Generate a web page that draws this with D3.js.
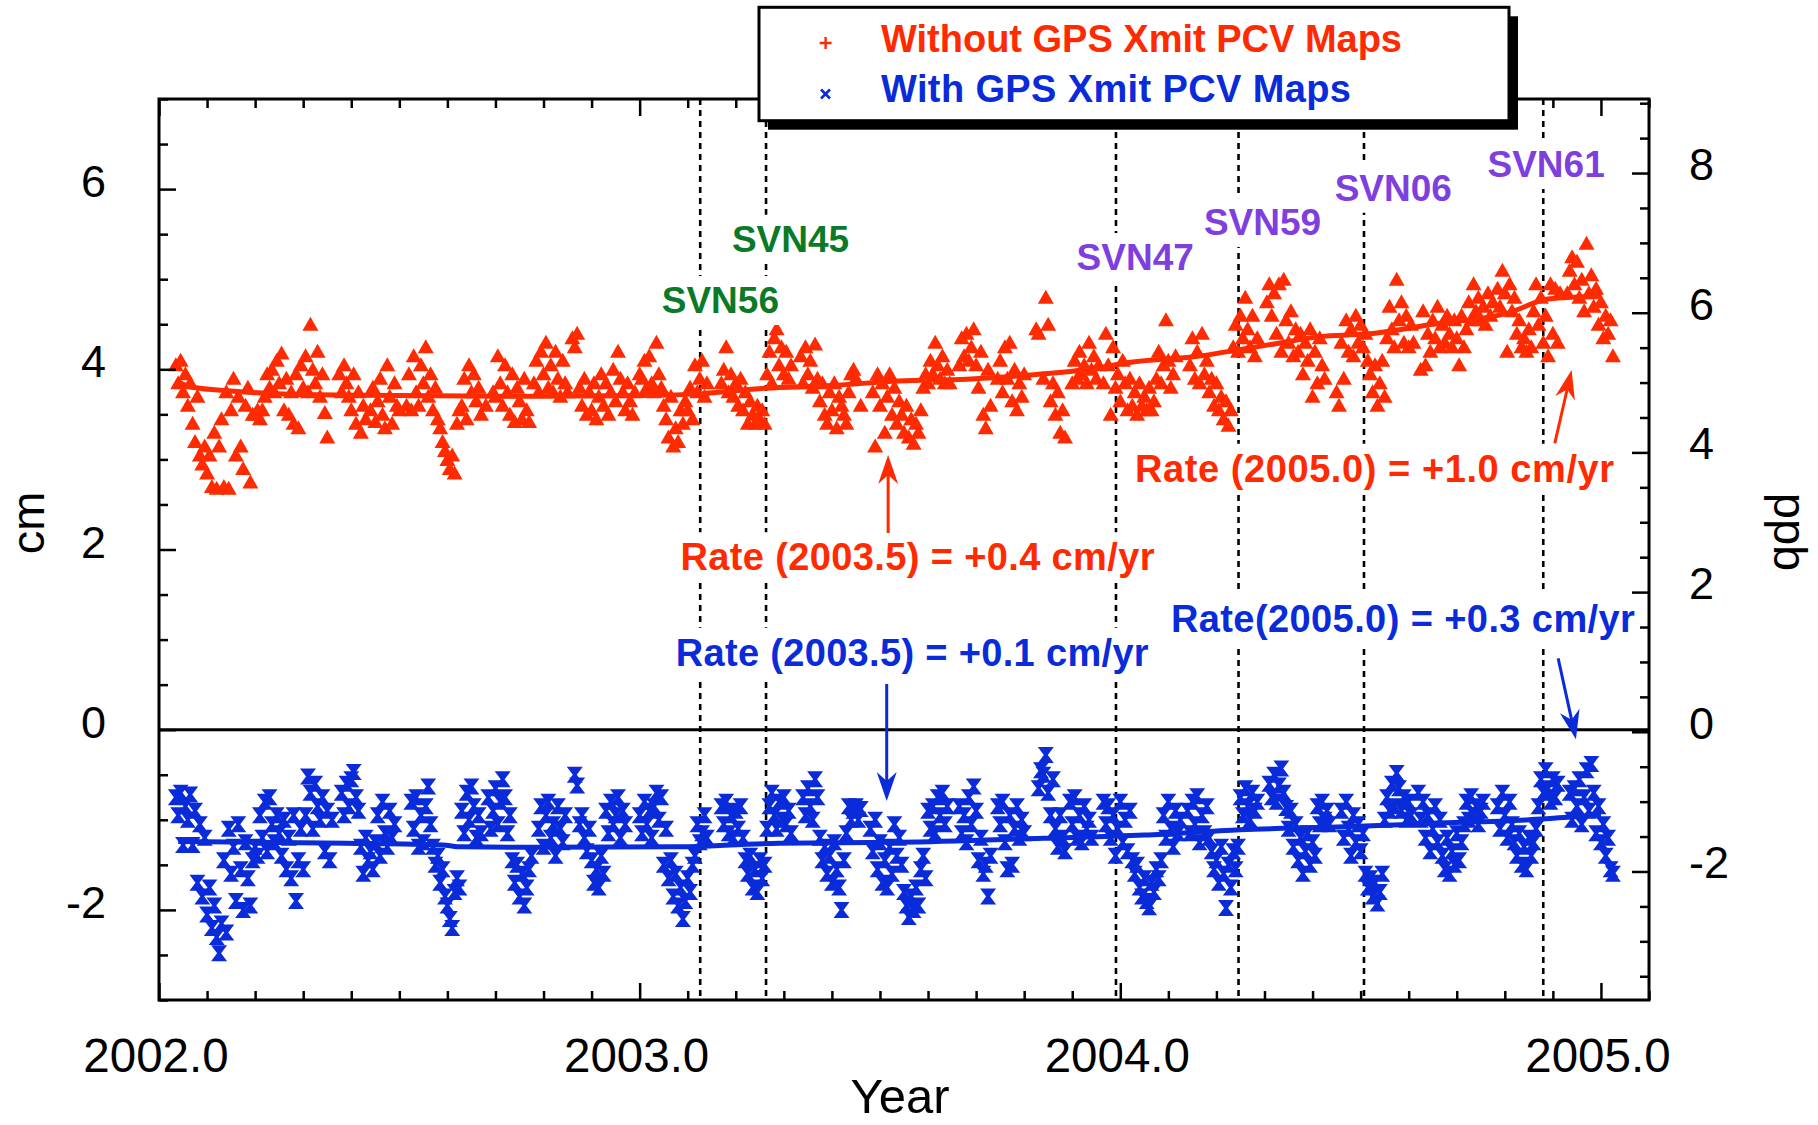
<!DOCTYPE html>
<html><head><meta charset="utf-8">
<script src="https://cdn.jsdelivr.net/npm/d3@7"></script>
<style>
html,body{margin:0;padding:0;background:#fff;}
svg{display:block;}
</style></head>
<body><svg id="chart" width="1818" height="1125"></svg>
<script>
// ---------------- DATA ----------------
// sampling grid: year = startYear + i * sampleStep
const startYear = 2002.0;
const sampleStep = 0.005;

// Without GPS Xmit PCV Maps (cm), one row per 0.1 yr
const redValues = [
null,null,null,null,null,null,null,4.05,3.85,4.10,3.75,3.95,3.60,3.85,3.40,3.20,3.70,3.05,2.95,3.15,
2.85,3.05,2.70,3.30,2.68,3.15,3.45,2.70,3.75,2.68,3.55,3.90,3.05,3.70,3.15,2.90,3.60,3.80,2.75,3.50,
3.50,3.55,3.45,3.55,3.70,3.95,3.80,4.00,3.75,4.10,3.85,4.18,3.55,3.90,3.50,3.75,3.40,3.95,3.35,4.05,
3.80,4.15,3.75,4.50,4.00,3.85,4.20,3.70,3.95,3.52,3.25,null,null,null,null,3.95,3.75,4.05,3.85,3.70,
3.55,3.95,3.40,3.75,3.30,3.60,3.45,null,3.55,3.80,3.42,3.65,3.90,3.50,3.35,4.05,3.70,3.40,3.85,3.60,
3.55,null,null,3.60,3.95,3.55,4.15,3.75,3.60,4.05,3.85,4.25,3.70,3.95,3.55,3.80,3.45,3.35,3.20,3.10,
3.00,2.90,3.05,2.85,3.40,3.55,3.60,3.90,3.45,4.05,3.75,3.95,3.65,3.80,3.50,null,3.60,null,null,3.75,
3.70,4.15,3.85,3.60,4.05,3.75,3.50,3.95,3.42,3.80,3.65,3.45,3.90,3.55,3.42,null,3.85,4.10,3.75,4.20,
3.95,4.30,3.80,4.05,3.75,4.20,3.90,3.70,4.10,3.85,3.75,null,4.35,4.25,4.40,3.80,3.60,3.90,3.50,3.75,
3.55,3.85,3.45,3.70,3.95,3.60,3.85,3.50,3.75,4.00,3.65,4.20,3.90,3.75,3.55,3.85,3.65,3.50,3.75,null,
3.95,3.90,4.10,3.80,4.15,3.85,3.75,4.30,3.95,3.80,3.60,3.45,3.25,3.70,3.15,3.35,3.20,3.55,3.40,3.65,
3.55,3.80,3.45,4.05,3.75,3.90,4.10,3.70,3.85,null,null,null,null,null,3.85,4.00,4.25,3.75,3.95,3.70,
3.85,3.60,3.90,3.55,3.75,3.40,3.65,3.50,3.40,3.60,3.45,3.55,3.40,3.95,4.20,3.85,4.35,4.45,4.05,4.25,
3.95,4.20,3.90,4.05,null,null,null,4.15,3.85,4.25,3.95,4.10,3.80,4.28,3.90,3.65,3.85,3.50,3.40,3.75,
3.55,3.85,3.35,3.70,3.60,3.50,3.40,3.75,3.95,4.00,3.90,null,3.60,null,null,null,null,3.75,3.15,3.95,
3.60,3.85,3.30,3.70,3.95,3.50,3.80,3.40,3.65,3.50,3.30,3.60,3.25,3.45,3.18,3.40,3.30,3.55,3.80,3.95,
3.85,4.10,3.95,4.30,4.05,3.90,4.15,3.85,4.00,3.85,null,null,null,4.05,4.35,4.15,4.40,4.10,4.25,4.45,
4.05,3.80,4.20,3.50,3.35,4.00,3.60,null,null,3.90,4.10,3.75,4.25,3.90,4.30,3.65,4.00,3.55,3.85,3.70,
3.95,null,null,null,null,4.45,4.40,null,3.90,4.80,4.50,3.65,3.85,3.50,3.75,3.30,3.55,3.25,null,null,
3.85,4.10,3.90,4.20,3.95,4.05,3.85,4.30,4.00,4.15,3.90,4.05,null,3.85,4.40,4.05,3.50,4.25,3.80,3.95,
3.65,4.10,3.85,3.55,3.90,3.60,3.75,3.50,3.85,3.60,3.70,3.55,3.80,3.55,3.65,3.90,4.20,3.85,4.05,4.55,
4.10,3.80,3.95,4.15,null,null,null,null,null,4.05,4.35,3.90,4.20,3.85,4.40,3.95,4.10,3.75,3.90,3.60,
3.85,3.55,3.70,3.45,3.65,3.38,3.55,4.25,4.50,4.20,4.60,4.35,4.80,4.45,4.25,4.60,4.15,4.35,null,null,
null,4.75,4.95,4.60,4.85,4.40,4.95,4.20,5.00,4.55,4.30,4.65,4.15,4.45,4.20,4.40,3.95,4.30,4.10,4.45,
3.70,4.20,3.85,4.35,4.05,3.90,null,null,null,null,3.75,3.60,4.30,3.90,4.55,4.20,4.45,4.15,4.60,4.30,
4.50,4.25,4.40,4.10,3.95,3.75,4.05,3.60,3.85,4.10,3.70,4.35,4.70,4.45,4.25,5.00,4.55,4.75,4.30,4.60,
4.25,4.50,4.30,null,null,4.00,4.65,4.05,4.40,4.20,4.55,4.35,4.70,4.25,4.50,4.30,4.60,4.40,4.25,4.55,
4.35,4.05,4.60,4.25,4.45,4.75,4.55,4.95,4.65,4.80,4.55,4.70,4.50,4.85,4.60,4.75,null,4.90,4.70,5.10,
4.85,4.20,4.95,4.65,4.80,4.40,4.55,4.25,4.35,4.20,4.45,4.25,4.65,4.95,4.50,4.80,4.30,4.60,4.15,4.95,
4.40,4.90,4.30,4.85,null,null,4.85,5.10,5.25,4.95,5.20,4.80,5.00,4.65,5.40,4.85,5.05,4.70,4.90,4.50,
4.75,4.35,4.60,4.40,4.55,4.15
];

// With GPS Xmit PCV Maps (cm)
const blueValues = [
null,null,null,null,null,null,null,-0.75,-0.95,-0.70,-1.28,-0.85,-1.00,-0.72,-1.28,-0.90,-1.70,-1.05,-1.85,-1.20,
-2.05,-1.75,-2.20,-1.95,-2.30,-2.48,-2.15,-1.45,-2.25,-1.10,-1.60,-1.30,-1.90,-1.05,-1.55,-2.00,-1.25,-1.65,-1.95,-1.45,
-1.30,-1.40,-0.95,-1.20,-0.80,-1.35,-0.75,-1.05,-1.25,-0.95,-1.15,-1.40,-1.00,-1.55,-1.20,-1.65,-0.95,-1.90,-1.45,-1.10,
-1.55,-0.95,-0.52,-0.70,-1.10,-0.60,-0.85,-1.00,-0.75,-1.35,-0.90,-1.45,-1.00,null,null,null,-0.70,-0.95,-0.60,-0.85,
-0.55,-0.47,-0.75,-0.90,-1.30,-1.60,-1.20,-1.45,-1.35,-1.55,-1.25,-0.95,-1.40,-0.80,-1.15,-1.30,-0.90,-1.20,-1.05,null,
null,null,null,null,null,-0.80,-1.10,-0.75,-1.30,-0.95,-1.25,-0.85,-0.63,-1.05,-1.30,-1.50,-1.40,-1.70,-1.55,-1.85,
-1.95,-2.10,-2.20,-1.80,-1.65,-1.75,-0.90,-1.15,-0.70,-1.00,-0.63,-0.85,-1.20,-0.95,-1.15,null,null,-0.75,-1.10,-0.90,
-0.65,-1.05,-0.80,-0.55,-0.75,-1.15,-0.95,-1.45,-1.70,-1.50,-1.85,-1.60,-1.95,-1.75,-1.55,-1.40,null,null,-1.10,-0.85,
-1.30,-0.95,-0.80,-1.20,-1.05,-1.40,-0.85,-1.10,-1.25,-0.95,null,null,null,-0.50,-0.62,-1.05,-0.95,-1.20,-1.35,-1.10,
-1.45,-1.70,-1.55,-1.75,-1.40,-1.60,-0.90,-1.15,-0.80,-1.05,-0.95,-0.75,-1.20,-0.90,-1.05,null,null,null,null,null,
-0.95,-1.15,-0.80,-1.05,-0.90,-1.20,-0.85,-0.70,-1.00,-0.75,-1.50,-1.10,-1.65,-1.45,-1.85,-1.60,-1.95,-1.75,-2.10,-1.90,
-1.65,-1.80,-1.50,-1.40,-1.05,-1.25,-1.15,-0.95,-1.20,null,null,null,null,null,-0.85,-1.05,-0.80,-1.15,-0.95,-1.20,
-0.90,-1.10,-0.85,-1.20,-1.45,-1.60,-1.40,-1.75,-1.55,-1.80,-1.45,-1.65,-1.50,-1.10,-0.85,-0.70,-0.95,-1.10,-0.80,-1.00,
-0.75,-1.05,-0.90,-1.15,null,null,null,null,-0.75,-0.95,-0.65,-0.85,-1.00,-0.55,-0.75,-1.20,-1.45,-1.30,-1.60,-1.40,
-1.70,-1.25,-1.55,-1.75,-2.00,-1.45,-1.15,-0.85,-1.00,-0.90,-0.85,-1.00,-0.88,null,null,null,-1.10,-1.35,-1.00,-1.55,
-1.25,-1.70,-1.45,-1.75,-1.30,-1.60,-1.05,-1.40,-1.20,-1.50,-1.80,-1.95,-2.08,-1.85,-2.00,-1.75,-1.95,-1.55,-1.40,-1.65,
-0.90,-1.10,-0.85,-1.15,-0.75,-0.95,-0.70,-1.05,-0.85,null,null,null,null,-0.85,-1.15,-0.95,-1.25,-0.75,-1.05,-0.63,
-0.90,-1.45,-1.20,-1.60,-1.50,-1.85,-1.40,null,null,-0.85,-1.05,-0.80,-1.25,-1.55,-0.95,-1.50,-1.10,-0.85,-1.20,-1.00,
-1.15,null,null,null,null,null,-0.65,-0.45,-0.50,-0.28,-0.70,-0.95,-0.55,-1.10,-1.30,-0.95,-1.20,-1.35,null,-0.80,
-1.05,-0.75,-1.20,-0.95,-1.25,-0.85,-1.10,-1.00,-1.20,null,null,null,null,-0.80,-1.05,-0.85,-1.20,-0.95,-1.40,-1.10,
-0.80,-1.25,-1.00,-1.35,-0.90,-1.45,-1.60,-1.50,-1.75,-1.85,-1.65,-1.90,-1.97,-1.70,-1.80,-1.55,-1.65,-1.45,-0.95,-1.20,
-0.80,-1.10,-1.30,-0.90,-1.15,-1.00,null,null,-0.90,-1.15,-0.80,-1.05,-0.74,-1.25,-0.95,-1.15,-0.85,-1.20,-1.35,-1.55,
-1.45,-1.70,-1.30,-1.60,-1.98,-1.50,-1.75,-1.35,-1.55,-1.30,-0.75,-0.95,-0.65,-0.85,-1.00,-0.70,-0.90,-0.80,null,null,
null,null,-0.60,-0.75,-0.50,-0.80,-0.62,-0.43,-0.70,-0.87,-1.10,-0.90,-1.30,-1.05,-1.45,-1.20,-1.60,-1.35,-1.15,-1.50,
-1.25,-1.40,-0.85,-1.05,-0.80,-1.00,-0.90,-1.05,null,null,null,null,-0.90,-1.20,-0.80,-1.10,-1.40,-0.95,-1.25,-1.05,
-1.35,-1.15,-1.60,-1.75,-1.65,-1.85,-1.70,-1.93,-1.80,-1.60,-1.00,-0.75,-0.90,-0.60,-0.85,-0.48,-0.65,-0.90,-0.75,-1.00,
-0.80,-0.95,null,null,-0.70,-1.00,-0.80,-1.20,-0.95,-1.35,-1.10,-0.85,-1.25,-1.00,-1.40,-1.55,-1.20,-1.60,-1.35,-1.50,
-1.15,-1.45,-1.25,-1.05,-0.80,-1.00,-0.74,-0.95,-0.85,-1.05,-0.90,-0.80,null,null,null,null,null,-0.85,-1.10,-0.70,
-0.95,-1.20,-0.80,-1.05,-1.25,-1.40,-1.15,-1.50,-1.30,-1.55,-1.20,-1.40,-1.25,-1.10,-0.85,-0.55,-0.70,-0.45,-0.65,-0.80,
-0.55,-0.75,-0.60,null,null,null,null,-0.70,-1.00,-0.65,-0.85,-0.55,-1.05,-0.75,-0.45,-0.90,-0.38,-0.70,-1.15,-0.85,
-1.25,-1.05,-1.40,-1.20,-1.55,-1.60
];

// smoothed trend curves
const redFitYears  = [2002.04,2002.07,2002.15,2002.29,2002.50,2002.71,2003.02,2003.13,2003.26,2003.40,2003.54,2003.68,2003.82,2003.96,2004.01,2004.17,2004.25,2004.33,2004.41,2004.53,2004.65,2004.81,2004.89,2005.00];
const redFitValues = [3.86,3.80,3.76,3.72,3.71,3.70,3.71,3.73,3.79,3.82,3.87,3.89,3.94,4.02,4.07,4.15,4.22,4.29,4.36,4.40,4.50,4.63,4.78,4.81];
const blueFitYears  = [2002.04,2002.39,2002.59,2002.63,2002.79,2003.09,2003.19,2003.29,2003.54,2003.84,2004.05,2004.25,2004.45,2004.65,2004.85,2005.00];
const blueFitValues = [-1.24,-1.26,-1.28,-1.30,-1.305,-1.30,-1.28,-1.26,-1.25,-1.205,-1.17,-1.11,-1.08,-1.04,-1.00,-0.945];

// satellite events
const svnYears  = [2003.126, 2003.263, 2003.991, 2004.246, 2004.507, 2004.880];
const svnNames  = ["SVN56", "SVN45", "SVN47", "SVN59", "SVN06", "SVN61"];

// axis ticks
const xMajorTicks = [2002, 2003, 2004, 2005];
const xTickLabels = ["2002.0", "2003.0", "2004.0", "2005.0"];
const yLeftMajor  = [-2, 0, 2, 4, 6];
const yRightMajor = [-2, 0, 2, 4, 6, 8];

const legendLabels = ["Without GPS Xmit PCV Maps", "With GPS Xmit PCV Maps"];
const rateTexts = ["Rate (2003.5) = +0.4 cm/yr", "Rate (2005.0) = +1.0 cm/yr", "Rate (2003.5) = +0.1 cm/yr", "Rate(2005.0) = +0.3 cm/yr"];

// ---------------- STYLE / LAYOUT ----------------
const RED = "#ff2a00", BLUE = "#0a2bd9", GREEN = "#0b7a26", PURPLE = "#7f3fdf";
const FONT = "'Liberation Sans', Arial, Helvetica, sans-serif";

const svg = d3.select("#chart");
const x  = d3.scaleLinear().domain([2002, 2005.1]).range([159, 1649]);
const y  = d3.scaleLinear().domain([-3, 7]).range([1000, 99]);
const yR = d3.scaleLinear().domain([-3.84, 9.06]).range([1000, 99]);

svg.append("rect").attr("width", 1818).attr("height", 1125).attr("fill", "#fff");

// dashed event lines
svg.append("g").selectAll("line").data(svnYears).join("line")
  .attr("x1", d => x(d)).attr("x2", d => x(d))
  .attr("y1", y(7)).attr("y2", y(-3))
  .attr("stroke", "#000").attr("stroke-width", 2.6).attr("stroke-dasharray", "6,5");

// points
const toPts = vals => vals.map((v, i) => ({t: startYear + i * sampleStep, v})).filter(d => d.v !== null);
const triPath = "M0,-7.5L8,6.5L-8,6.5Z";
const hourPath = "M-8,-8L8,-8L2,0L8,8L-8,8L-2,0Z";

svg.append("g").selectAll("path").data(toPts(redValues)).join("path")
  .attr("d", triPath).attr("fill", RED)
  .attr("transform", d => `translate(${x(d.t)},${y(d.v)})`);
svg.append("g").selectAll("path").data(toPts(blueValues)).join("path")
  .attr("d", hourPath).attr("fill", BLUE)
  .attr("transform", d => `translate(${x(d.t)},${y(d.v)})`);

// trend lines
const line = d3.line().x(d => x(d[0])).y(d => y(d[1])).curve(d3.curveMonotoneX);
svg.append("path").attr("d", line(redFitYears.map((t, i) => [t, redFitValues[i]])))
  .attr("fill", "none").attr("stroke", RED).attr("stroke-width", 5);
svg.append("path").attr("d", line(blueFitYears.map((t, i) => [t, blueFitValues[i]])))
  .attr("fill", "none").attr("stroke", BLUE).attr("stroke-width", 5);

// zero line
svg.append("line").attr("x1", x(2002)).attr("x2", x(2005.1)).attr("y1", y(0)).attr("y2", y(0))
  .attr("stroke", "#000").attr("stroke-width", 3);

// axes (ticks) via d3 axes
const xMinor = d3.range(0, 32).map(i => 2002 + i / 10).filter(v => !xMajorTicks.some(m => Math.abs(m - v) < 1e-6));
function cleanAxis(g){ g.select(".domain").remove(); g.selectAll("line").attr("stroke-width", 2.5); }
svg.append("g").attr("transform", `translate(0,${y(-3)})`)
  .call(d3.axisBottom(x).tickValues(xMinor).tickSize(-9).tickSizeOuter(0).tickFormat("")).call(cleanAxis);
svg.append("g").attr("transform", `translate(0,${y(-3)})`)
  .call(d3.axisBottom(x).tickValues(xMajorTicks).tickSize(-17).tickSizeOuter(0).tickFormat("")).call(cleanAxis);
svg.append("g").attr("transform", `translate(0,${y(7)})`)
  .call(d3.axisTop(x).tickValues(xMinor).tickSize(-9).tickSizeOuter(0).tickFormat("")).call(cleanAxis);
svg.append("g").attr("transform", `translate(0,${y(7)})`)
  .call(d3.axisTop(x).tickValues(xMajorTicks).tickSize(-17).tickSizeOuter(0).tickFormat("")).call(cleanAxis);

const yLMinor = d3.range(-6, 15).map(i => i / 2).filter(v => !yLeftMajor.includes(v));
svg.append("g").attr("transform", `translate(${x(2002)},0)`)
  .call(d3.axisLeft(y).tickValues(yLMinor).tickSize(-9).tickSizeOuter(0).tickFormat("")).call(cleanAxis);
svg.append("g").attr("transform", `translate(${x(2002)},0)`)
  .call(d3.axisLeft(y).tickValues(yLeftMajor).tickSize(-17).tickSizeOuter(0).tickFormat("")).call(cleanAxis);
const yRMinor = d3.range(-7, 19).map(i => i / 2).filter(v => !yRightMajor.includes(v));
svg.append("g").attr("transform", `translate(${x(2005.1)},0)`)
  .call(d3.axisRight(yR).tickValues(yRMinor).tickSize(-9).tickSizeOuter(0).tickFormat("")).call(cleanAxis);
svg.append("g").attr("transform", `translate(${x(2005.1)},0)`)
  .call(d3.axisRight(yR).tickValues(yRightMajor).tickSize(-17).tickSizeOuter(0).tickFormat("")).call(cleanAxis);

// frame
svg.append("rect").attr("x", x(2002)).attr("y", y(7)).attr("width", x(2005.1) - x(2002)).attr("height", y(-3) - y(7))
  .attr("fill", "none").attr("stroke", "#000").attr("stroke-width", 3);

// tick labels
svg.append("g").selectAll("text").data(xMajorTicks).join("text")
  .attr("x", d => x(d) - 3).attr("y", y(-3) + 72).attr("text-anchor", "middle")
  .attr("font-family", FONT).attr("font-size", 47.5).text((d, i) => xTickLabels[i]);
svg.append("g").selectAll("text").data(yLeftMajor).join("text")
  .attr("x", x(2002) - 53).attr("y", d => y(d) + 8).attr("text-anchor", "end")
  .attr("font-family", FONT).attr("font-size", 45).text(d => String(d));
svg.append("g").selectAll("text").data(yRightMajor).join("text")
  .attr("x", x(2005.1) + 40).attr("y", d => yR(d) + 7).attr("text-anchor", "start")
  .attr("font-family", FONT).attr("font-size", 45).text(d => String(d));

// axis titles
svg.append("text").attr("transform", "translate(44,523) rotate(-90)").attr("text-anchor", "middle")
  .attr("font-family", FONT).attr("font-size", 47).text("cm");
svg.append("text").attr("transform", "translate(1774,532) rotate(90)").attr("text-anchor", "middle")
  .attr("font-family", FONT).attr("font-size", 47).text("ppb");
svg.append("text").attr("x", 900).attr("y", 1113).attr("text-anchor", "middle")
  .attr("font-family", FONT).attr("font-size", 49).text("Year");

// annotation helper: text with white mask box
function label(txt, tx, ty, color, size, width) {
  const g = svg.append("g");
  const t = g.append("text").attr("x", tx).attr("y", ty).attr("text-anchor", "middle")
    .attr("font-family", FONT).attr("font-weight", "bold").attr("font-size", size)
    .attr("fill", color).text(txt);
  if (width) t.attr("textLength", width).attr("lengthAdjust", "spacing");
  const b = t.node().getBBox();
  g.insert("rect", "text").attr("x", b.x - 4).attr("y", b.y - 4).attr("width", b.width + 8).attr("height", b.height + 8).attr("fill", "#fff");
}

// SVN labels (positions in data coordinates)
const svnLabelPos = [[2003.168, 4.625], [2003.314, 5.305], [2004.031, 5.102], [2004.296, 5.49], [2004.568, 5.871], [2004.886, 6.134]];
svnNames.forEach((n, i) => label(n, x(svnLabelPos[i][0]), y(svnLabelPos[i][1]), i < 2 ? GREEN : PURPLE, 37));

// rate annotations
const ratePos = [[2003.578, 1.77, 474], [2004.529, 2.752, 479], [2003.567, 0.71, 473], [2004.588, 1.084, 464]];
const rateColors = [RED, RED, BLUE, BLUE];
rateTexts.forEach((s, i) => label(s, x(ratePos[i][0]), y(ratePos[i][1]), rateColors[i], 38, ratePos[i][2]));

// arrows (data coordinates: from -> tip)
const arrows = [
  {x1: 2003.517, y1: 2.183, x2: 2003.517, y2: 3.049, c: RED},
  {x1: 2004.904, y1: 3.179, x2: 2004.939, y2: 3.992, c: RED},
  {x1: 2003.514, y1: 0.507, x2: 2003.514, y2: -0.791, c: BLUE},
  {x1: 2004.911, y1: 0.792, x2: 2004.948, y2: -0.107, c: BLUE}
];
arrows.forEach(a => {
  const X1 = x(a.x1), Y1 = y(a.y1), X2 = x(a.x2), Y2 = y(a.y2);
  const L = Math.hypot(X2 - X1, Y2 - Y1), ux = (X2 - X1) / L, uy = (Y2 - Y1) / L;
  const px = -uy, py = ux, hl = 29, hw = 10, notch = 20;
  svg.append("line").attr("x1", X1).attr("y1", Y1).attr("x2", X2 - ux * notch).attr("y2", Y2 - uy * notch)
    .attr("stroke", a.c).attr("stroke-width", 3);
  const pts = [[X2, Y2], [X2 - ux * hl + px * hw, Y2 - uy * hl + py * hw], [X2 - ux * notch, Y2 - uy * notch], [X2 - ux * hl - px * hw, Y2 - uy * hl - py * hw]];
  svg.append("path").attr("d", "M" + pts.map(p => p.join(",")).join("L") + "Z").attr("fill", a.c);
});

// legend
const lg = svg.append("g");
lg.append("rect").attr("x", 768).attr("y", 16.3).attr("width", 750).attr("height", 113.4).attr("fill", "#000");
lg.append("rect").attr("x", 759).attr("y", 7.3).attr("width", 750).attr("height", 113.4).attr("fill", "#fff").attr("stroke", "#000").attr("stroke-width", 3);
lg.append("path").attr("d", "M819.6,43H831.6M825.6,37V49").attr("stroke", RED).attr("stroke-width", 2.4);
lg.append("path").attr("d", "M821,89.5L830,98.5M830,89.5L821,98.5").attr("stroke", BLUE).attr("stroke-width", 2.6);
lg.append("text").attr("x", 881).attr("y", 51.5).attr("font-family", FONT).attr("font-weight", "bold").attr("font-size", 38)
  .attr("fill", RED).attr("textLength", 521).attr("lengthAdjust", "spacing").text(legendLabels[0]);
lg.append("text").attr("x", 881).attr("y", 101.5).attr("font-family", FONT).attr("font-weight", "bold").attr("font-size", 38)
  .attr("fill", BLUE).attr("textLength", 470).attr("lengthAdjust", "spacing").text(legendLabels[1]);
</script>
</body></html>
